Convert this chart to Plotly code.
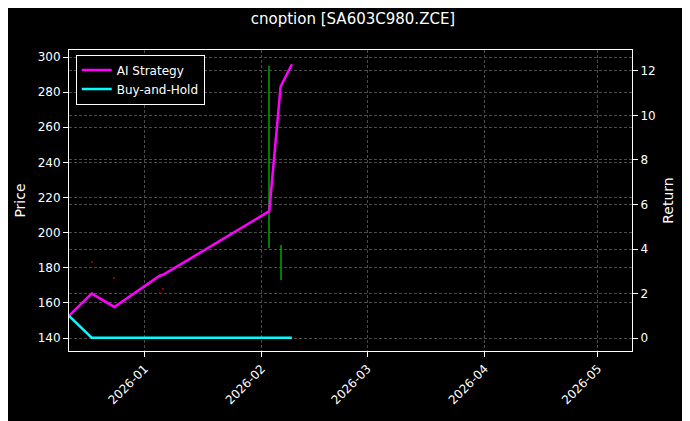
import plotly.graph_objects as go

strat_dates = ["2025-12-12", "2025-12-18", "2025-12-24", "2026-01-05", "2026-01-06", "2026-02-03", "2026-02-06", "2026-02-09"]
strat_ret = [1.0, 2.0, 1.4, 2.8, 2.85, 5.7, 11.3, 12.3]
bh_dates = ["2025-12-12", "2025-12-18", "2026-02-09"]
bh_ret = [1.0, 0.02, 0.02]

c_dates = ["2025-12-18", "2025-12-24", "2026-01-05", "2026-01-06", "2026-02-03", "2026-02-06"]
c_open = [183.3, 174.3, 165.8, 168.2, 191, 173]
c_close = [182.7, 173.7, 165.2, 167.6, 295, 193]

fig = go.Figure()
cols = ["#00b000" if c >= o else "#d00000" for o, c in zip(c_open, c_close)]
fig.add_trace(go.Bar(x=c_dates, y=[c - o for o, c in zip(c_open, c_close)], base=c_open,
                     width=[0.3 * 86400000] * len(c_dates), marker=dict(color=cols, line=dict(width=0)),
                     opacity=0.7, showlegend=False, yaxis="y"))
fig.add_trace(go.Scatter(x=strat_dates, y=strat_ret, mode="lines", name="AI Strategy",
                         line=dict(color="#ff00ff", width=2.5), yaxis="y2"))
fig.add_trace(go.Scatter(x=bh_dates, y=bh_ret, mode="lines", name="Buy-and-Hold",
                         line=dict(color="#00ffff", width=2.5), yaxis="y2"))

grid = dict(showgrid=True, gridcolor="#4a4a4a", griddash="3px,2px", gridwidth=0.5)
fig.update_layout(
    width=690, height=421, paper_bgcolor="black", plot_bgcolor="black",
    font=dict(family="DejaVu Sans", color="white", size=12),
    title=dict(text="cnoption [SA603C980.ZCE]", x=0.5, xanchor="center", y=0.975, yanchor="middle",
               font=dict(size=15)),
    margin=dict(l=58, r=66, t=42, b=78),
    bargap=0,
    xaxis=dict(type="date", range=["2025-12-12", "2026-05-10"],
               tickvals=["2026-01-01", "2026-02-01", "2026-03-01", "2026-04-01", "2026-05-01"],
               ticktext=["2026-01", "2026-02", "2026-03", "2026-04", "2026-05"],
               tickangle=-45, ticks="outside", tickcolor="white", showline=True, linecolor="white",
               mirror=True, zeroline=False, **grid),
    yaxis=dict(title=dict(text="Price", standoff=8), range=[132.6, 304], tickvals=list(range(140, 301, 20)),
               ticks="outside", tickcolor="white", showline=True, linecolor="white", mirror=True,
               zeroline=False, **grid),
    yaxis2=dict(title=dict(text="Return", standoff=8), overlaying="y", side="right", range=[-0.58, 12.94],
                tickvals=list(range(0, 13, 2)), ticks="outside", tickcolor="white",
                zeroline=False, **grid),
    legend=dict(x=0.012, y=0.985, xanchor="left", yanchor="top", bgcolor="black",
                bordercolor="white", borderwidth=1, font=dict(size=12)),
)
fig.write_html("out.html")
